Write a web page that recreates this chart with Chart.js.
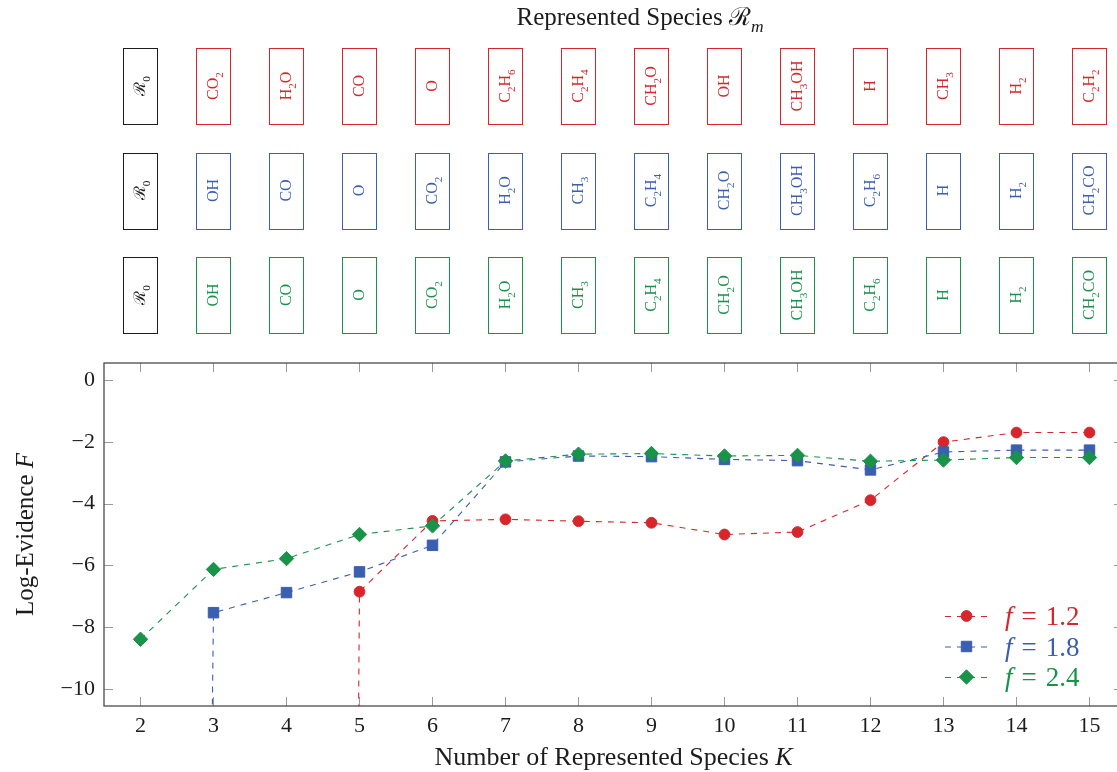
<!DOCTYPE html>
<html>
<head>
<meta charset="utf-8">
<script src="https://cdn.jsdelivr.net/npm/chart.js@4.4.1/dist/chart.umd.min.js"></script>
<style>
  html, body { margin: 0; padding: 0; background: #fff; }
  #wrap { width: 1117px; height: 772px; }
</style>
</head>
<body>
<div id="wrap"><canvas id="evidenceChart" width="1117" height="772"></canvas></div>
<script>
// number of represented species K
const kValues = [2, 3, 4, 5, 6, 7, 8, 9, 10, 11, 12, 13, 14, 15];
const yTicks = [0, -2, -4, -6, -8, -10];

// log-evidence F for each K (the first finite value is reached from far below the axis)
const evidenceF12 = [null, null, -300, -6.85, -4.56, -4.51, -4.57, -4.62, -5.00, -4.92, -3.89, -2.01, -1.70, -1.70];
const evidenceF18 = [-200, -7.53, -6.88, -6.21, -5.35, -2.65, -2.46, -2.48, -2.57, -2.61, -2.91, -2.33, -2.27, -2.27];
const evidenceF24 = [-8.39, -6.13, -5.78, -5.00, -4.72, -2.62, -2.40, -2.38, -2.46, -2.44, -2.63, -2.59, -2.51, -2.51];

// species picked up at each K; '_' puts the next character in a subscript
const speciesF12 = ['ℛ_0', 'CO_2', 'H_2O', 'CO', 'O', 'C_2H_6', 'C_2H_4', 'CH_2O', 'OH', 'CH_3OH', 'H', 'CH_3', 'H_2', 'C_2H_2'];
const speciesF18 = ['ℛ_0', 'OH', 'CO', 'O', 'CO_2', 'H_2O', 'CH_3', 'C_2H_4', 'CH_2O', 'CH_3OH', 'C_2H_6', 'H', 'H_2', 'CH_2CO'];
const speciesF24 = ['ℛ_0', 'OH', 'CO', 'O', 'CO_2', 'H_2O', 'CH_3', 'C_2H_4', 'CH_2O', 'CH_3OH', 'C_2H_6', 'H', 'H_2', 'CH_2CO'];

const fValues = ['1.2', '1.8', '2.4'];

const RED = '#d7262b';
const BLUE = '#3a5eb0';
const GREEN = '#19924a';
const INK = '#1c1c1c';
const SERIF = "'Liberation Serif', 'DejaVu Serif', serif";

function toPoints(series) {
    return kValues.map((k, i) => ({ x: k, y: series[i] }));
}

function splitLabel(label) {
    let segs = [];
    for (let i = 0; i < label.length; i++) {
        if (label[i] === '_') {
            segs.push({ text: label[i + 1], sub: true });
            i++;
        } else {
            segs.push({ text: label[i] });
        }
    }
    return segs;
}

// draws a run of segments (roman / italic / subscript) on one baseline
function drawRich(ctx, segs, x, y, size, align) {
    const fontOf = s => (s.italic ? 'italic ' : '') + (s.sub ? size * 0.7 : size) + 'px ' + SERIF;
    let total = 0;
    segs.forEach(s => {
        ctx.font = fontOf(s);
        s.w = ctx.measureText(s.text).width + (s.gap || 0);
        total += s.w;
    });
    let cx = align === 'center' ? x - total / 2 : (align === 'right' ? x - total : x);
    ctx.textAlign = 'left';
    ctx.textBaseline = 'alphabetic';
    segs.forEach(s => {
        ctx.font = fontOf(s);
        ctx.fillText(s.text, cx + (s.gap || 0) / 2, y + (s.sub ? size * 0.28 : 0));
        cx += s.w;
    });
}

const pointStyles = [
    { pointStyle: 'circle', radius: 5.4 },
    { pointStyle: 'rect', radius: 7.4 },
    { pointStyle: 'rectRot', radius: 7.2 },
];

// pgfplots-like frame: box around the plot with ticks pointing inwards;
// the right edge sits at frameMaxX, just past the visible area
const axisFrame = {
    id: 'axisFrame',
    beforeDatasetsDraw(chart, args, opts) {
        const { ctx, chartArea: a, scales: { x, y } } = chart;
        const len = opts.tickLength;
        const right = x.getPixelForValue(opts.frameMaxX);
        ctx.save();
        ctx.strokeStyle = opts.tickColor;
        ctx.lineWidth = 1;
        ctx.beginPath();
        x.ticks.forEach(t => {
            const px = Math.round(x.getPixelForValue(t.value)) + 0.5;
            ctx.moveTo(px, a.bottom);
            ctx.lineTo(px, a.bottom - len);
            ctx.moveTo(px, a.top);
            ctx.lineTo(px, a.top + len);
        });
        y.ticks.forEach(t => {
            const py = Math.round(y.getPixelForValue(t.value)) + 0.5;
            ctx.moveTo(a.left, py);
            ctx.lineTo(a.left + len, py);
            ctx.moveTo(right, py);
            ctx.lineTo(right - len, py);
        });
        ctx.stroke();
        ctx.strokeStyle = opts.frameColor;
        ctx.lineWidth = opts.frameWidth;
        ctx.strokeRect(a.left, a.top, right - a.left, a.bottom - a.top);
        ctx.restore();
    }
};

// title, axis titles, legend and the species boxes above the plot
const decorations = {
    id: 'decorations',
    afterDraw(chart, args, opts) {
        const { ctx, chartArea: a, scales: { x } } = chart;
        ctx.save();
        ctx.fillStyle = INK;

        drawRich(ctx, [{ text: 'Represented Species ' }, { text: 'ℛ' }, { text: 'm', italic: true, sub: true }],
            opts.titleX, opts.titleY, 25, 'center');

        const plotMid = (a.left + x.getPixelForValue(opts.frameMaxX)) / 2;
        drawRich(ctx, [{ text: 'Number of Represented Species ' }, { text: 'K', italic: true }],
            plotMid, opts.xTitleY, 26, 'center');

        ctx.save();
        ctx.translate(opts.yTitleX, (a.top + a.bottom) / 2);
        ctx.rotate(-Math.PI / 2);
        drawRich(ctx, [{ text: 'Log-Evidence ' }, { text: 'F', italic: true }], 0, 0, 25, 'center');
        ctx.restore();

        // species rows
        const rows = [speciesF12, speciesF18, speciesF24];
        const colors = [RED, BLUE, GREEN];
        const b = opts.boxes;
        rows.forEach((row, r) => {
            const top = b.top + r * b.pitch;
            row.forEach((label, i) => {
                const cx = x.getPixelForValue(kValues[i]);
                const color = i === 0 ? INK : colors[r];
                ctx.strokeStyle = color;
                ctx.lineWidth = 1;
                ctx.strokeRect(Math.round(cx - b.width / 2) + 0.5, Math.round(top) + 0.5, b.width, b.height);
                ctx.save();
                ctx.translate(cx, top + b.height / 2);
                ctx.rotate(-Math.PI / 2);
                ctx.fillStyle = color;
                drawRich(ctx, splitLabel(label), 0, b.baseline, b.fontSize, 'center');
                ctx.restore();
            });
        });

        // legend, bottom right inside the plot
        const lg = opts.legend;
        const datasets = chart.data.datasets;
        fValues.forEach((f, i) => {
            const ds = datasets[i];
            const cy = a.bottom - lg.bottom + i * lg.rowGap;
            const x0 = a.right - lg.right;
            ctx.save();
            ctx.strokeStyle = ds.borderColor;
            ctx.lineWidth = ds.borderWidth;
            ctx.setLineDash([6, 6]);
            ctx.beginPath();
            ctx.moveTo(x0, cy + 0.5);
            ctx.lineTo(x0 + lg.lineLength, cy + 0.5);
            ctx.stroke();
            ctx.restore();
            ctx.fillStyle = ds.borderColor;
            ctx.strokeStyle = ds.borderColor;
            Chart.helpers.drawPoint(ctx, {
                pointStyle: pointStyles[i].pointStyle,
                radius: pointStyles[i].radius,
                borderWidth: 1,
                rotation: 0
            }, x0 + lg.lineLength / 2, cy);
            drawRich(ctx, [
                { text: 'f', italic: true },
                { text: '=', gap: 18 },
                { text: f }
            ], x0 + lg.textOffset, cy + 9, 27, 'left');
        });
        ctx.restore();
    }
};

const seriesList = [evidenceF12, evidenceF18, evidenceF24];
const seriesColors = [RED, BLUE, GREEN];

const datasets = seriesList.map((series, i) => ({
    label: 'f = ' + fValues[i],
    data: toPoints(series),
    borderColor: seriesColors[i],
    backgroundColor: seriesColors[i],
    borderWidth: 1.1,
    borderDash: [6, 6],
    pointStyle: pointStyles[i].pointStyle,
    pointRadius: pointStyles[i].radius,
    pointBorderWidth: 1,
    pointBorderColor: seriesColors[i],
    pointBackgroundColor: seriesColors[i],
    tension: 0,
    order: 2 - i,
}));

new Chart(document.getElementById('evidenceChart'), {
    type: 'line',
    data: { datasets: datasets },
    options: {
        responsive: false,
        animation: false,
        devicePixelRatio: 1,
        events: [],
        layout: {
            autoPadding: false,
            padding: { top: 363, right: 0, bottom: 0, left: 0 }
        },
        plugins: {
            legend: { display: false },
            tooltip: { enabled: false },
            axisFrame: { tickLength: 9, tickColor: '#9a9a9a', frameColor: '#4a4a4a', frameWidth: 1.3, frameMaxX: 15.46 },
            decorations: {
                frameMaxX: 15.46,
                titleX: 640, titleY: 25,
                xTitleY: 765,
                yTitleX: 33,
                boxes: { top: 48, pitch: 104.5, width: 34, height: 76, fontSize: 16, baseline: 5 },
                legend: { right: 172, bottom: 90, rowGap: 30.5, lineLength: 43, textOffset: 60 }
            }
        },
        scales: {
            x: {
                type: 'linear',
                min: 1.5,
                max: 15.377,
                afterBuildTicks: scale => { scale.ticks = kValues.map(v => ({ value: v })); },
                afterFit: scale => {
                    scale.height = 66;
                    scale.paddingLeft = 0;
                    scale.paddingRight = 0;
                },
                grid: { display: false, drawTicks: false },
                border: { display: false },
                ticks: {
                    padding: 7,
                    color: INK,
                    font: { family: SERIF, size: 22 },
                    callback: v => String(v)
                }
            },
            y: {
                type: 'linear',
                min: -10.55,
                max: 0.55,
                afterBuildTicks: scale => { scale.ticks = yTicks.map(v => ({ value: v })); },
                afterFit: scale => { scale.width = 104; },
                grid: { display: false, drawTicks: false },
                border: { display: false },
                ticks: {
                    padding: 9,
                    color: INK,
                    font: { family: SERIF, size: 22 },
                    callback: v => v < 0 ? '\u2212' + Math.abs(v) : String(v)
                }
            }
        }
    },
    plugins: [axisFrame, decorations]
});
</script>
</body>
</html>
